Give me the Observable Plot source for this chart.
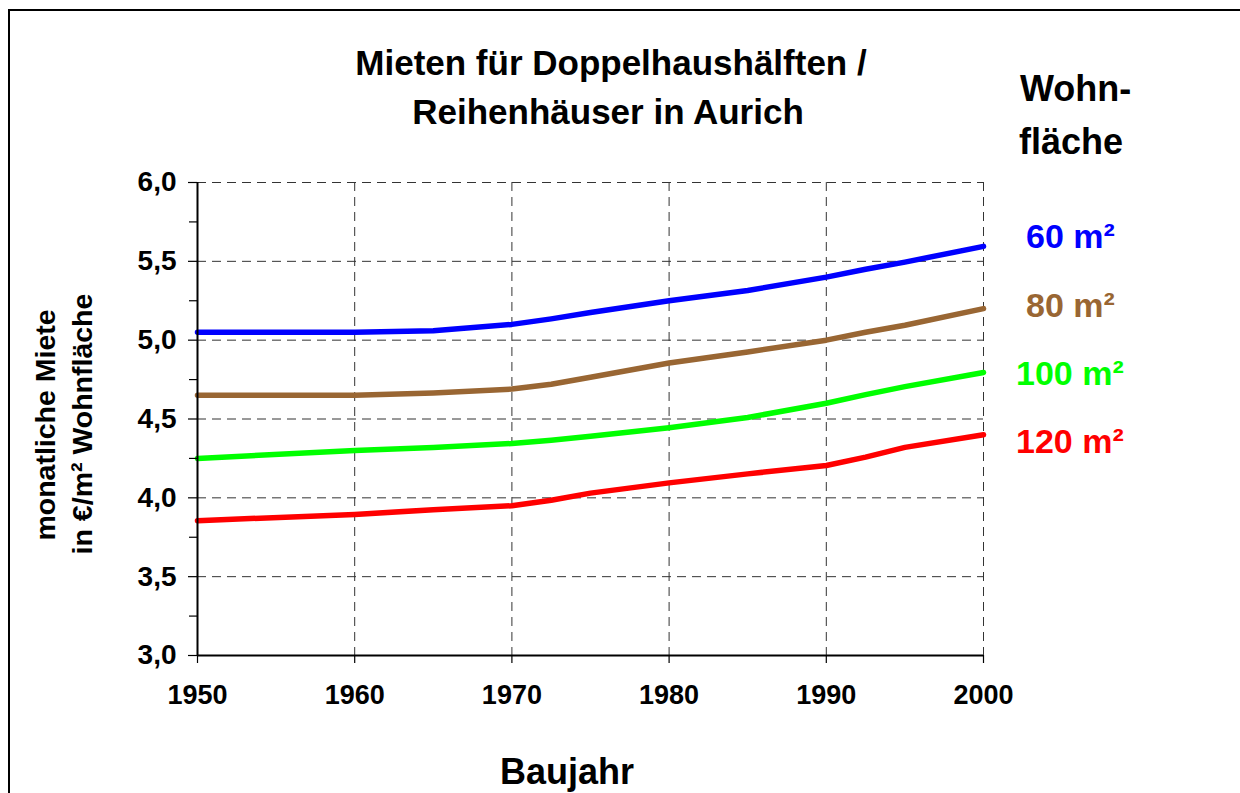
<!DOCTYPE html>
<html>
<head>
<meta charset="utf-8">
<script src="https://cdn.jsdelivr.net/npm/d3@7"></script>
<script src="https://cdn.jsdelivr.net/npm/@observablehq/plot@0.6"></script>
<style>
  html, body { margin: 0; padding: 0; background: #fff; }
  #wrap { position: relative; width: 1240px; height: 793px; overflow: hidden; background: #fff; }
  #border { position: absolute; left: 8px; top: 9px; width: 1300px; height: 900px;
            border-left: 2.5px solid #000; border-top: 2.5px solid #000; }
  #chart { position: absolute; left: 0; top: 0; }
</style>
</head>
<body>
<div id="wrap">
  <div id="border"></div>
  <div id="chart"></div>
</div>
<script>
// ---- data ----
const years   = [1950, 1960, 1965, 1970, 1972.5, 1975, 1980, 1985, 1990, 1992.5, 1995, 2000];
const rent60  = [5.05, 5.05, 5.06, 5.10, 5.135, 5.175, 5.25, 5.315, 5.40, 5.45, 5.495, 5.595];
const rent80  = [4.65, 4.65, 4.665, 4.69, 4.72, 4.765, 4.855, 4.925, 5.00, 5.05, 5.095, 5.20];
const rent100 = [4.25, 4.30, 4.32, 4.345, 4.365, 4.39, 4.445, 4.51, 4.60, 4.655, 4.705, 4.795];
const rent120 = [3.855, 3.895, 3.925, 3.95, 3.985, 4.03, 4.095, 4.152, 4.205, 4.258, 4.32, 4.40];
const seriesLabels = ["60 m²", "80 m²", "100 m²", "120 m²"];
const seriesColors = ["#0000FF", "#996633", "#00FF00", "#FF0000"];
const xTicks = [1950, 1960, 1970, 1980, 1990, 2000];
const yTicks = [3.0, 3.5, 4.0, 4.5, 5.0, 5.5, 6.0];
const yMinorTicks = [3.25, 3.75, 4.25, 4.75, 5.25, 5.75];
const titleLines = ["Mieten für Doppelhaushälften /", "Reihenhäuser in Aurich"];
const legendTitle = ["Wohn-", "fläche"];
const yTitleLines = ["monatliche Miete", "in €/m² Wohnfläche"];
const xTitle = "Baujahr";

const allValues = [rent60, rent80, rent100, rent120];
const data = seriesLabels.flatMap((s, k) =>
  years.map((yr, i) => ({ year: yr, rent: allValues[k][i], series: s })));

const FONT = "'Liberation Sans', Arial, Helvetica, sans-serif";
const gridStyle = { stroke: "#333", strokeOpacity: 1, strokeWidth: 1, strokeDasharray: "9,6" };

const svg = Plot.plot({
  width: 1240,
  height: 793,
  marginLeft: 197,
  marginRight: 257,
  marginTop: 182,
  marginBottom: 138,
  style: { fontFamily: FONT, fontWeight: "bold", fontSize: "27px", background: "transparent", color: "#000" },
  x: { domain: [1950, 2000] },
  y: { domain: [3, 6] },
  color: { domain: seriesLabels, range: seriesColors },
  marks: [
    Plot.gridX(xTicks, gridStyle),
    Plot.gridY(yTicks, gridStyle),
    Plot.line(data, { x: "year", y: "rent", z: "series", stroke: "series",
      strokeWidth: 5.5, strokeLinecap: "round", strokeLinejoin: "round" }),
    Plot.ruleX([1950], { stroke: "#000", strokeWidth: 2 }),
    Plot.ruleY([3], { stroke: "#000", strokeWidth: 2 }),
    Plot.axisY(yMinorTicks, { tickSize: 8, tickFormat: () => "", label: null, strokeWidth: 1.2 }),
    Plot.axisY(yTicks, { tickSize: 9, tickPadding: 12, label: null, strokeWidth: 1.2,
      tickFormat: d => d.toFixed(1).replace(".", ","), fontSize: 28 }),
    Plot.axisX(xTicks, { tickSize: 8, tickPadding: 21, label: null, strokeWidth: 1.2,
      tickFormat: d => String(d), fontSize: 27 })
  ]
});

const s = d3.select(svg);
function addText(str, x, y, size, opts = {}) {
  const t = s.append("text")
    .attr("x", x).attr("y", y)
    .attr("font-family", FONT)
    .attr("font-weight", "bold")
    .attr("font-size", size)
    .attr("fill", opts.fill || "#000")
    .attr("text-anchor", opts.anchor || "start")
    .text(str);
  if (opts.transform) t.attr("transform", opts.transform).attr("x", 0).attr("y", 0);
  return t;
}
// title
addText(titleLines[0], 611, 75, 35, { anchor: "middle" });
addText(titleLines[1], 608, 124, 35, { anchor: "middle" });
// legend heading
addText(legendTitle[0], 1020, 101, 36);
addText(legendTitle[1], 1019, 154, 36);
// series labels
const labelPos = [[1026, 248], [1026, 317], [1016, 385], [1016, 453]];
seriesLabels.forEach((lab, i) =>
  addText(lab, labelPos[i][0], labelPos[i][1], 34, { fill: seriesColors[i] }));
// axis titles
addText(xTitle, 567, 784, 36, { anchor: "middle" });
addText(yTitleLines[0], 0, 0, 28.5, { anchor: "middle", transform: "translate(55,425) rotate(-90)" });
addText(yTitleLines[1], 0, 0, 28.5, { anchor: "middle", transform: "translate(92,424) rotate(-90)" });

document.getElementById("chart").appendChild(svg);
</script>
</body>
</html>
